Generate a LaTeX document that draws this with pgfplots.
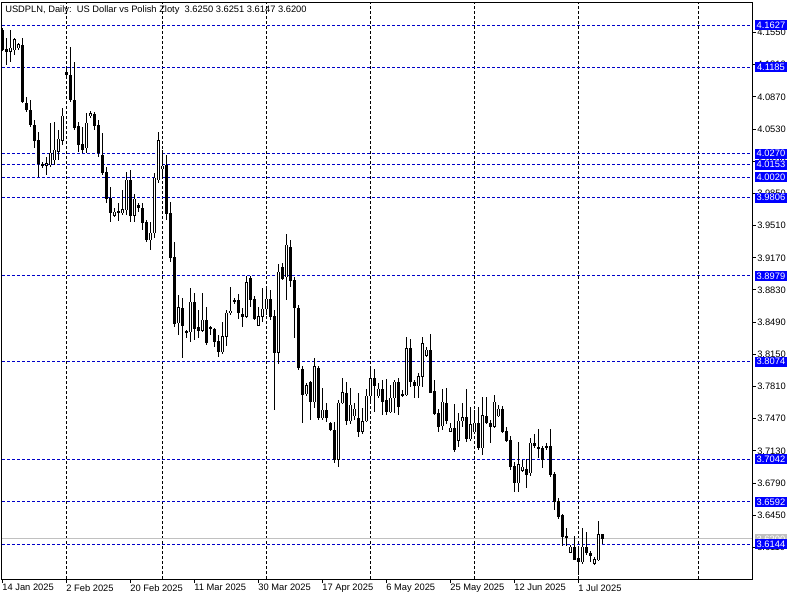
\documentclass[border=0pt]{standalone}
\usepackage{pgfplots}
\pgfplotsset{compat=1.18}
\usepackage{pgfplotstable}
\usepackage{fontspec}
\setmainfont{Liberation Sans}
\definecolor{lvl}{RGB}{0,0,200}
\definecolor{lvlbox}{RGB}{0,0,255}
\definecolor{bidgray}{RGB}{192,192,192}
\newcommand\mtfont{\fontsize{7pt}{8.4pt}\selectfont}

\pgfplotstableread{
i o h l c
0 4.1576 4.1597 4.1354 4.1365
1 4.1375 4.1492 4.1206 4.1354
2 4.1354 4.1576 4.1238 4.1386
3 4.1365 4.1492 4.1312 4.1471
4 4.1386 4.1439 4.1365 4.1428
5 4.1418 4.1492 4.0805 4.0816
6 4.0805 4.0868 4.0710 4.0731
7 4.0731 4.0837 4.0552 4.0573
8 4.0573 4.0625 4.0330 4.0414
9 4.0414 4.0499 4.0023 4.0171
10 4.0161 4.0182 4.0118 4.0140
11 4.0150 4.0235 4.0045 4.0171
12 4.0150 4.0594 4.0129 4.0277
13 4.0203 4.0604 4.0150 4.0309
14 4.0288 4.0520 4.0203 4.0425
15 4.0414 4.0752 4.0362 4.0668
16 4.1132 4.1175 4.1069 4.1101
17 4.1101 4.1397 4.0816 4.0837
18 4.0837 4.1238 4.0520 4.0541
19 4.0552 4.0604 4.0288 4.0362
20 4.0362 4.0552 4.0277 4.0319
21 4.0330 4.0699 4.0277 4.0594
22 4.0668 4.0721 4.0647 4.0699
23 4.0689 4.0710 4.0520 4.0562
24 4.0573 4.0625 4.0235 4.0277
25 4.0256 4.0488 4.0045 4.0066
26 4.0076 4.0129 3.9749 3.9801
27 3.9801 3.9918 3.9548 3.9643
28 3.9612 3.9696 3.9601 3.9654
29 3.9664 3.9749 3.9559 3.9643
30 3.9643 3.9886 3.9622 3.9685
31 3.9675 4.0076 3.9622 3.9992
32 3.9992 4.0097 3.9548 3.9612
33 3.9612 3.9844 3.9548 3.9791
34 3.9728 3.9749 3.9654 3.9696
35 3.9696 3.9749 3.9464 3.9538
36 3.9538 3.9569 3.9337 3.9358
37 3.9358 3.9548 3.9252 3.9432
38 3.9432 4.0066 3.9379 4.0013
39 3.9992 4.0499 3.9960 4.0414
40 4.0108 4.0309 4.0013 4.0140
41 4.0150 4.0256 3.9569 3.9633
42 3.9643 3.9759 3.9125 3.9168
43 3.9178 3.9337 3.8439 3.8471
44 3.8481 3.8777 3.8355 3.8640
45 3.8640 3.8745 3.8112 3.8450
46 3.8397 3.8407 3.8323 3.8376
47 3.8386 3.8851 3.8281 3.8703
48 3.8703 3.8798 3.8302 3.8418
49 3.8429 3.8618 3.8323 3.8407
50 3.8407 3.8798 3.8386 3.8513
51 3.8513 3.8650 3.8249 3.8270
52 3.8439 3.8450 3.8355 3.8418
53 3.8418 3.8429 3.8228 3.8281
54 3.8281 3.8355 3.8122 3.8175
55 3.8175 3.8492 3.8154 3.8334
56 3.8334 3.8618 3.8238 3.8587
57 3.8587 3.8861 3.8566 3.8608
58 3.8724 3.8745 3.8682 3.8703
59 3.8724 3.8787 3.8524 3.8587
60 3.8576 3.8640 3.8439 3.8545
61 3.8545 3.8977 3.8534 3.8914
62 3.8956 3.8977 3.8650 3.8724
63 3.8735 3.8766 3.8513 3.8524
64 3.8450 3.8650 3.8445 3.8545
65 3.8545 3.8851 3.8492 3.8629
66 3.8629 3.8840 3.8566 3.8735
67 3.8735 3.8830 3.8513 3.8545
68 3.8555 3.8618 3.7562 3.8165
69 3.8165 3.9104 3.8048 3.9020
70 3.9073 3.9115 3.8935 3.8956
71 3.8967 3.9421 3.8724 3.9305
72 3.9284 3.9358 3.8861 3.8935
73 3.8935 3.8967 3.8323 3.8640
74 3.8640 3.8671 3.7985 3.8006
75 3.7995 3.8027 3.7425 3.7721
76 3.7731 3.7847 3.7710 3.7826
77 3.7858 3.7868 3.7457 3.7647
78 3.7647 3.8112 3.7583 3.8017
79 3.8006 3.8027 3.7457 3.7478
80 3.7478 3.7795 3.7457 3.7562
81 3.7562 3.7636 3.7436 3.7488
82 3.7425 3.7436 3.7340 3.7351
83 3.7351 3.7436 3.7002 3.7044
84 3.7044 3.7668 3.6960 3.7636
85 3.7636 3.7900 3.7626 3.7752
86 3.7742 3.7858 3.7404 3.7446
87 3.7446 3.7795 3.7414 3.7615
88 3.7499 3.7636 3.7457 3.7573
89 3.7478 3.7742 3.7277 3.7340
90 3.7340 3.7583 3.7309 3.7436
91 3.7446 3.7784 3.7436 3.7710
92 3.7710 3.8017 3.7647 3.7900
93 3.7900 3.7995 3.7541 3.7826
94 3.7710 3.7847 3.7689 3.7784
95 3.7784 3.7879 3.7509 3.7657
96 3.7668 3.7890 3.7509 3.7541
97 3.7541 3.7826 3.7530 3.7689
98 3.7689 3.7879 3.7530 3.7858
99 3.7858 3.7900 3.7509 3.7594
100 3.7731 3.7774 3.7700 3.7710
101 3.7721 3.8334 3.7710 3.8207
102 3.8207 3.8312 3.7805 3.7858
103 3.7858 3.7879 3.7689 3.7816
104 3.7816 3.7953 3.7689 3.7921
105 3.7921 3.8334 3.7805 3.8260
106 3.8143 3.8228 3.8122 3.8196
107 3.8196 3.8365 3.7742 3.7752
108 3.7763 3.7879 3.7509 3.7530
109 3.7530 3.7573 3.7330 3.7393
110 3.7393 3.7784 3.7351 3.7647
111 3.7636 3.7795 3.7414 3.7446
112 3.7340 3.7425 3.7330 3.7372
113 3.7372 3.7626 3.7118 3.7140
114 3.7245 3.7530 3.7171 3.7446
115 3.7446 3.7636 3.7383 3.7488
116 3.7488 3.7784 3.7224 3.7256
117 3.7256 3.7594 3.7235 3.7414
118 3.7330 3.7562 3.7319 3.7425
119 3.7425 3.7594 3.7140 3.7161
120 3.7161 3.7700 3.7087 3.7509
121 3.7499 3.7700 3.7414 3.7425
122 3.7425 3.7457 3.7214 3.7383
123 3.7383 3.7721 3.7372 3.7647
124 3.7499 3.7615 3.7488 3.7573
125 3.7573 3.7604 3.7319 3.7330
126 3.7340 3.7383 3.7224 3.7235
127 3.7245 3.7287 3.6928 3.6970
128 3.6970 3.7013 3.6696 3.6791
129 3.6791 3.7224 3.6696 3.6991
130 3.6928 3.7034 3.6907 3.6960
131 3.6939 3.7044 3.6738 3.6886
132 3.6897 3.7266 3.6865 3.7214
133 3.7214 3.7309 3.7161 3.7182
134 3.7171 3.7362 3.7055 3.7150
135 3.7161 3.7182 3.6949 3.7044
136 3.7182 3.7214 3.7140 3.7171
137 3.7182 3.7362 3.6855 3.6876
138 3.6886 3.6907 3.6506 3.6591
139 3.6601 3.6633 3.6411 3.6432
140 3.6443 3.6464 3.6126 3.6221
141 3.6231 3.6316 3.6126 3.6221
142 3.6062 3.6136 3.6052 3.6115
143 3.6115 3.6231 3.5978 3.5988
144 3.5999 3.6105 3.5819 3.5957
145 3.5957 3.6316 3.5936 3.6115
146 3.6115 3.6274 3.6031 3.6052
147 3.6052 3.6073 3.5957 3.6020
148 3.5936 3.6010 3.5925 3.5988
149 3.5978 3.6390 3.5967 3.6252
150 3.6250 3.6251 3.6147 3.6200
}\ohlc

\newcommand\lvlline[1]{\draw[lvl, line width=0.75pt, dash pattern=on 2.25pt off 1.5pt] (axis cs:-0.167,#1) -- (axis cs:187.33,#1);}
\newcommand\lvlcoord[2]{\coordinate (lv#1) at (axis cs:188.08,#2);}
\newcommand\lvlbox[3]{\node[fill=#3, text=white, anchor=west, inner sep=0pt, minimum height=7.5pt, minimum width=23.5pt, font=\mtfont] at (lv#1) {#2};}

\begin{document}
\begin{tikzpicture}
\fill[white] (0,0) rectangle (600pt,-450pt);
\useasboundingbox (0,0) rectangle (600pt,-450pt);
\begin{axis}[
  at={(1.5pt,-1.5pt)}, anchor=north west,
  scale only axis, width=562.5pt, height=432.75pt,
  xmin=-0.167, xmax=187.33, ymin=3.5777, ymax=4.1872,
  clip=false,
  axis line style={black, line width=0.75pt},
  tick align=outside,
  major tick length=3pt,
  tick style={black, line width=0.75pt},
  xtick pos=bottom, ytick pos=right, yticklabel pos=right,
  xtick={0,16,32,48,64,80,96,112,128,144},
  xticklabels={14 Jan 2025,2 Feb 2025,20 Feb 2025,11 Mar 2025,30 Mar 2025,17 Apr 2025,6 May 2025,25 May 2025,12 Jun 2025,1 Jul 2025},
  xticklabel style={anchor=north west, inner sep=0pt, font=\mtfont, xshift=-0.4pt, yshift=-0.75pt},
  ytick={3.611,3.645,3.679,3.713,3.747,3.781,3.815,3.849,3.883,3.917,3.951,3.985,4.019,4.053,4.087,4.121,4.155},
  yticklabels={3.6110,3.6450,3.6790,3.7130,3.7470,3.7810,3.8150,3.8490,3.8830,3.9170,3.9510,3.9850,4.0190,4.0530,4.0870,4.1210,4.1550},
  yticklabel style={anchor=west, inner sep=0pt, font=\mtfont, xshift=0.75pt},
  extra x ticks={16,40,66,92,118,144,174},
  extra x tick labels={},
  extra x tick style={grid=major, tick style={draw=none}, major grid style={black, line width=0.75pt, dash pattern=on 2.25pt off 1.5pt}},
]
\lvlline{4.1627}
\lvlline{4.1185}
\lvlline{4.0270}
\lvlline{4.0153}
\lvlline{4.0020}
\lvlline{3.9806}
\lvlline{3.8979}
\lvlline{3.8074}
\lvlline{3.7042}
\lvlline{3.6592}
\lvlline{3.6144}
\draw[bidgray, line width=0.75pt] (axis cs:-0.167,3.62) -- (axis cs:187.33,3.62);

% wicks
\addplot[draw=none, mark=none, forget plot, error bars/.cd, y dir=both, y explicit, error mark=none,
  error bar style={draw=black, solid, line width=0.75pt}]
  table[x=i, y expr={(\thisrow{h}+\thisrow{l})/2}, y error expr={(\thisrow{h}-\thisrow{l})/2}] {\ohlc};
% bodies
\addplot[draw=none, mark=none, forget plot, error bars/.cd, y dir=both, y explicit, error mark=none,
  error bar style={draw=black, solid, line width=2.25pt}]
  table[x=i, y expr={(\thisrow{o}+\thisrow{c})/2}, y error expr={abs(\thisrow{o}-\thisrow{c})/2+0.0005}] {\ohlc};
% hollow interiors of rising candles
\addplot[draw=none, mark=none, forget plot, unbounded coords=discard, error bars/.cd, y dir=both, y explicit, error mark=none,
  error bar style={draw=white, solid, line width=0.75pt}]
  table[x=i, y expr={\thisrow{c}-\thisrow{o}>0.0015 ? (\thisrow{o}+\thisrow{c})/2 : nan}, y error expr={abs(\thisrow{c}-\thisrow{o})/2-0.0005}] {\ohlc};

\coordinate (title) at (rel axis cs:0.004,0.981);
\lvlcoord{a}{4.1627}
\lvlcoord{b}{4.1185}
\lvlcoord{c}{4.0270}
\lvlcoord{d}{4.0153}
\lvlcoord{e}{4.0020}
\lvlcoord{f}{3.9806}
\lvlcoord{g}{3.8979}
\lvlcoord{h}{3.8074}
\lvlcoord{i}{3.7042}
\lvlcoord{j}{3.6592}
\lvlcoord{k}{3.6144}
\lvlcoord{bid}{3.6200}
\end{axis}
\node[anchor=base west, inner sep=0pt, font=\mtfont] at (title) {USDPLN, Daily:\ \ US Dollar vs Polish Zloty\ \ 3.6250 3.6251 3.6147 3.6200};
\lvlbox{bid}{3.6200}{bidgray}
\lvlbox{a}{4.1627}{lvlbox}
\lvlbox{b}{4.1185}{lvlbox}
\lvlbox{c}{4.0270}{lvlbox}
\lvlbox{d}{4.0153}{lvlbox}
\lvlbox{e}{4.0020}{lvlbox}
\lvlbox{f}{3.9806}{lvlbox}
\lvlbox{g}{3.8979}{lvlbox}
\lvlbox{h}{3.8074}{lvlbox}
\lvlbox{i}{3.7042}{lvlbox}
\lvlbox{j}{3.6592}{lvlbox}
\lvlbox{k}{3.6144}{lvlbox}
\end{tikzpicture}
\end{document}
